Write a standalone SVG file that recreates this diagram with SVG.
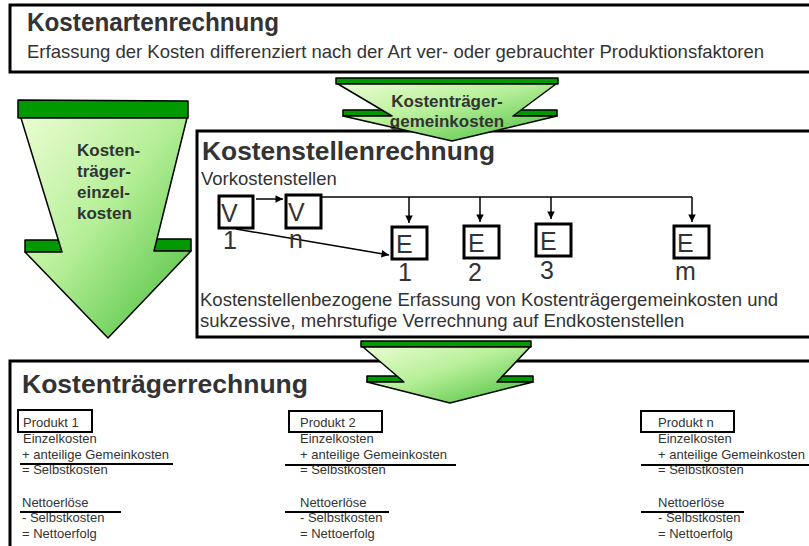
<svg xmlns="http://www.w3.org/2000/svg" width="809" height="546" viewBox="0 0 809 546">
<defs>
<linearGradient id="gr" x1="0" y1="0" x2="1" y2="1">
<stop offset="0" stop-color="#eafdd2"/>
<stop offset="0.45" stop-color="#b6ef98"/>
<stop offset="1" stop-color="#46bd38"/>
</linearGradient>
<marker id="ah" viewBox="0 0 10 10" refX="10" refY="5" markerWidth="6" markerHeight="5" orient="auto" markerUnits="strokeWidth">
<path d="M0,0 L10,5 L0,10 z" fill="#000"/>
</marker>
<style>
.box{fill:none;stroke:#000;stroke-width:3}
.sbox{fill:#fff;stroke:#000;stroke-width:3}
.pbox{fill:#fff;stroke:#000;stroke-width:2}
.bar{fill:#009a00;stroke:#000;stroke-width:1.5;stroke-linejoin:round}
.body{fill:url(#gr);stroke:#000;stroke-width:1.5;stroke-linejoin:round}
.t{font-family:"Liberation Sans",Arial,sans-serif;fill:#333}
.h{font-size:26px;font-weight:bold}
.b{font-size:18.5px}
.al{font-size:17px;font-weight:bold}
.big{font-size:25px}
.p{font-size:13px}
.ln{stroke:#000;stroke-width:1.5;fill:none}
.ul{stroke:#000;stroke-width:2}
</style>
</defs>
<rect x="0" y="0" width="809" height="546" fill="#fff"/>

<g id="kostenartenrechnung">
<rect class="box" x="10" y="5" width="820" height="67"/>
<text class="t h" x="27" y="31" textLength="252" lengthAdjust="spacingAndGlyphs">Kostenartenrechnung</text>
<text class="t b" x="27" y="57.5">Erfassung der Kosten differenziert nach der Art ver- oder gebrauchter Produktionsfaktoren</text>
</g>

<g id="kostenstellenrechnung">
<rect class="box" x="197" y="131" width="640" height="206"/>
<text class="t h" x="202" y="160" textLength="293" lengthAdjust="spacingAndGlyphs">Kostenstellenrechnung</text>
<text class="t b" x="201" y="185">Vorkostenstellen</text>
<text class="t b" x="200" y="306">Kostenstellenbezogene Erfassung von Kostenträgergemeinkosten und</text>
<text class="t b" x="200" y="327">sukzessive, mehrstufige Verrechnung auf Endkostenstellen</text>
</g>

<g id="kostentraegerrechnung">
<rect class="box" x="10" y="361" width="820" height="200"/>
<text class="t h" x="22" y="393" textLength="286" lengthAdjust="spacingAndGlyphs">Kostenträgerrechnung</text>
</g>

<g id="arrow-einzelkosten">
<polygon class="bar" points="18,100 188,101 188,118 18,118"/>
<polygon class="bar" points="25,240 68,240 68,252 25,252"/>
<polygon class="bar" points="148,239 191,239 191,251 148,251"/>
<polygon class="body" points="21,118 187,118 154,251 191,251 108,338 25,252 62,252"/>
<text class="t al" x="77" y="156">Kosten-</text>
<text class="t al" x="77" y="177">träger-</text>
<text class="t al" x="77" y="198">einzel-</text>
<text class="t al" x="77" y="219">kosten</text>
</g>

<g id="arrow-gemeinkosten-1">
<polygon class="bar" points="336,78 558,78 558,84 336,84"/>
<polygon class="bar" points="343,110 398,110 398,116 343,116"/>
<polygon class="bar" points="508,110 557,110 557,116 508,116"/>
<polygon class="body" points="338,84 556,84 513,116 557,116 452,141 343,116 392,116"/>
<text class="t al" x="447" y="107" text-anchor="middle">Kostenträger-</text>
<text class="t al" x="447" y="127" text-anchor="middle">gemeinkosten</text>
</g>

<g id="arrow-gemeinkosten-2">
<polygon class="bar" points="361,341 531,341 531,347 361,347"/>
<polygon class="bar" points="367,376 408,376 408,382 367,382"/>
<polygon class="bar" points="492,376 533,376 533,382 492,382"/>
<polygon class="body" points="363,347 530,347 497,382 533,382 450,403 367,382 404,382"/>
</g>

<g id="V1">
<rect class="sbox" x="219" y="196" width="34" height="32"/>
<text class="t big" x="221" y="222">V</text>
<text class="t big" x="223" y="249">1</text>
</g>
<g id="Vn">
<rect class="sbox" x="286" y="195" width="35" height="33"/>
<text class="t big" x="288" y="221">V</text>
</g>
<g id="E1">
<rect class="sbox" x="392" y="227" width="35" height="32"/>
<text class="t big" x="396" y="253">E</text>
<text class="t big" x="398" y="281">1</text>
</g>
<g id="E2">
<rect class="sbox" x="464" y="226" width="35" height="32"/>
<text class="t big" x="468" y="252">E</text>
<text class="t big" x="468" y="281">2</text>
</g>
<g id="E3">
<rect class="sbox" x="536" y="224" width="35" height="32"/>
<text class="t big" x="540" y="250">E</text>
<text class="t big" x="540" y="279">3</text>
</g>
<g id="Em">
<rect class="sbox" x="674" y="226" width="35" height="32"/>
<text class="t big" x="677" y="252">E</text>
<text class="t big" x="675" y="280">m</text>
</g>

<g id="connectors">
<line class="ln" x1="256" y1="199" x2="283" y2="199" marker-end="url(#ah)"/>
<polyline class="ln" points="321,197 692,197"/>
<line class="ln" x1="409" y1="197" x2="409" y2="223" marker-end="url(#ah)"/>
<line class="ln" x1="480" y1="197" x2="480" y2="222" marker-end="url(#ah)"/>
<line class="ln" x1="551" y1="197" x2="551" y2="219" marker-end="url(#ah)"/>
<line class="ln" x1="692" y1="197" x2="692" y2="222" marker-end="url(#ah)"/>
<line class="ln" x1="236" y1="229" x2="389" y2="255" marker-end="url(#ah)"/>
</g>
<text class="t big" x="289" y="248">n</text>

<g id="produkt-1">
<rect class="pbox" x="18" y="410" width="74" height="22"/>
<text class="t p" x="23" y="427">Produkt 1</text>
<text class="t p" x="23" y="443">Einzelkosten</text>
<text class="t p" x="22" y="459">+ anteilige Gemeinkosten</text>
<line class="ul" x1="20" y1="464" x2="173" y2="464"/>
<text class="t p" x="22" y="474">= Selbstkosten</text>
<text class="t p" x="22" y="507">Nettoerlöse</text>
<line class="ul" x1="20" y1="512" x2="121" y2="512"/>
<text class="t p" x="22" y="522">- Selbstkosten</text>
<text class="t p" x="22" y="538">= Nettoerfolg</text>
</g>

<g id="produkt-2">
<rect class="pbox" x="289" y="411" width="93" height="21"/>
<text class="t p" x="300" y="427">Produkt 2</text>
<text class="t p" x="300" y="443">Einzelkosten</text>
<text class="t p" x="300" y="459">+ anteilige Gemeinkosten</text>
<line class="ul" x1="285" y1="465" x2="456" y2="465"/>
<text class="t p" x="300" y="474">= Selbstkosten</text>
<text class="t p" x="300" y="507">Nettoerlöse</text>
<line class="ul" x1="285" y1="512" x2="389" y2="512"/>
<text class="t p" x="300" y="522">- Selbstkosten</text>
<text class="t p" x="300" y="538">= Nettoerfolg</text>
</g>

<g id="produkt-n">
<rect class="pbox" x="641" y="411" width="93" height="21"/>
<text class="t p" x="658" y="427">Produkt n</text>
<text class="t p" x="658" y="443">Einzelkosten</text>
<text class="t p" x="658" y="459">+ anteilige Gemeinkosten</text>
<line class="ul" x1="641" y1="465" x2="809" y2="465"/>
<text class="t p" x="658" y="474">= Selbstkosten</text>
<text class="t p" x="658" y="507">Nettoerlöse</text>
<line class="ul" x1="641" y1="512" x2="744" y2="512"/>
<text class="t p" x="658" y="522">- Selbstkosten</text>
<text class="t p" x="658" y="538">= Nettoerfolg</text>
</g>
</svg>
